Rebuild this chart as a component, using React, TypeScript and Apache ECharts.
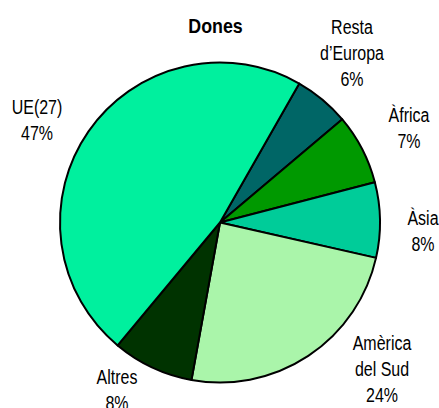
import React, { useEffect, useRef } from "react";
import * as echarts from "echarts";

const categories = ["Resta\nd\u2019Europa", "\u00c0frica", "\u00c0sia", "Am\u00e8rica\ndel Sud", "Altres", "UE(27)"];
const values = [5.6, 7.1, 7.6, 24.3, 8.2, 47.2];
const colors = ["#006666", "#009900", "#00CC99", "#AAF5AA", "#003300", "#00F09E"];
const titleText = "Dones";

const FONT = "'Liberation Sans', Arial, sans-serif";
// label anchor points (layout only)
const labelAnchors: [number, number][] = [
  [352, 53],
  [409, 128],
  [423, 231],
  [382, 369],
  [117, 390],
  [37, 120.5],
];

export default function App() {
  const ref = useRef<HTMLDivElement>(null);
  useEffect(() => {
    document.body.style.margin = "0";
    const chart = echarts.init(ref.current!, null, { renderer: "svg" });
    const total = values.reduce((a, b) => a + b, 0);
    const data = categories.map((name, i) => ({ name, value: values[i], itemStyle: { color: colors[i] } }));
    const labels = categories.map((name, i) => ({
      type: "text",
      x: labelAnchors[i][0],
      y: labelAnchors[i][1],
      scaleX: 0.82,
      silent: true,
      style: {
        x: 0,
        y: 0,
        text: `${name}\n${Math.round((values[i] / total) * 100)}%`,
        textAlign: "center",
        textVerticalAlign: "middle",
        fontFamily: FONT,
        fontSize: 19.5,
        lineHeight: 26,
        fill: "#000",
      },
    }));
    chart.setOption({
      animation: false,
      backgroundColor: "#ffffff",
      graphic: [
        {
          type: "text",
          x: 215.5,
          y: 25.5,
          scaleX: 0.85,
          silent: true,
          style: {
            x: 0,
            y: 0,
            text: titleText,
            textAlign: "center",
            textVerticalAlign: "middle",
            fontFamily: FONT,
            fontWeight: "bold",
            fontSize: 21,
            fill: "#000",
          },
        },
        ...labels,
      ],
      series: [
        {
          type: "pie",
          center: [220, 222.5],
          radius: 160,
          startAngle: 60.3,
          clockwise: true,
          silent: true,
          label: { show: false },
          labelLine: { show: false },
          itemStyle: { borderColor: "#000", borderWidth: 2 },
          data,
        },
      ],
    });
    return () => chart.dispose();
  }, []);
  return <div ref={ref} style={{ width: 439, height: 408 }} />;
}
